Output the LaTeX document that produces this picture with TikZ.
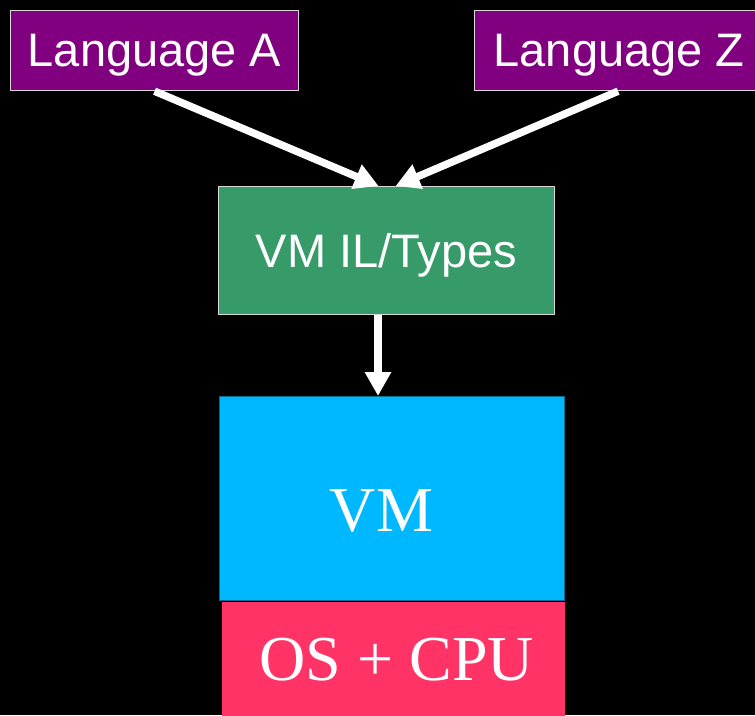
\documentclass[tikz,border=0pt]{standalone}
\usepackage{fontspec}
\setmainfont{Liberation Serif}
\newfontfamily\labelsans{Liberation Sans}
\usetikzlibrary{arrows.meta,calc}

\definecolor{langfill}{HTML}{800080}
\definecolor{ilfill}{HTML}{379A69}
\definecolor{vmfill}{HTML}{00B8FF}
\definecolor{vmedge}{HTML}{0A6A90}
\definecolor{osfill}{HTML}{FF3366}
\definecolor{boxedge}{HTML}{D8D8D8}

\tikzset{
  langbox/.style={draw=boxedge, line width=1.2pt, fill=langfill, text=white,
    anchor=north west, inner sep=0pt, minimum height=80pt, text depth=0pt,
    font=\labelsans\fontsize{47}{50}\selectfont},
  ilbox/.style={draw=boxedge, line width=1.2pt, fill=ilfill, text=white,
    anchor=north west, inner sep=0pt, minimum width=336pt, minimum height=128pt,
    text depth=0pt, font=\labelsans\fontsize{47}{50}\selectfont},
  layerbox/.style={anchor=north west, inner sep=0pt},
  layertext/.style={anchor=base, inner sep=0pt, text=white,
    font=\fontsize{64}{68}\selectfont},
  flow/.style={draw=white, line width=7.5pt,
    -{Triangle[length=24pt,width=25pt]}},
}

\begin{document}
\begin{tikzpicture}[x=1pt,y=-1pt]
  \fill[black] (0,0) rectangle (755,715);
  \useasboundingbox (0,0) rectangle (755,715);

  % source languages
  \node[langbox, minimum width=288pt] (langA) at (10,10) {Language A};
  \node[langbox, minimum width=289pt] (langZ) at (474,10) {Language Z};

  % intermediate language
  \node[ilbox] (il) at (218,186) {VM IL/Types};

  % runtime stack: OS + CPU under the VM
  \node[layerbox, fill=osfill, minimum width=343pt, minimum height=114pt] (os) at (222,602) {};
  \node[layertext] (oslabel) at ($(os.north)+(3,78)$) {OS + CPU};
  \node[layerbox, draw=vmedge, line width=1pt, fill=vmfill, minimum width=345pt, minimum height=204pt] (vm) at (219,396) {};
  \node[layertext] (vmlabel) at ($(vm.north)+(-10.5,135)$) {VM};

  % connectors
  \coordinate (drop) at (378,0);
  \draw[flow] (langA.south) -- ($(il.north)+(-8,0)$);
  \draw[flow] ($(langZ.south)+(-1,0)$) -- ($(il.north)+(9,0)$);
  \draw[flow] (il.south -| drop) -- (vm.north -| drop);
\end{tikzpicture}
\end{document}
